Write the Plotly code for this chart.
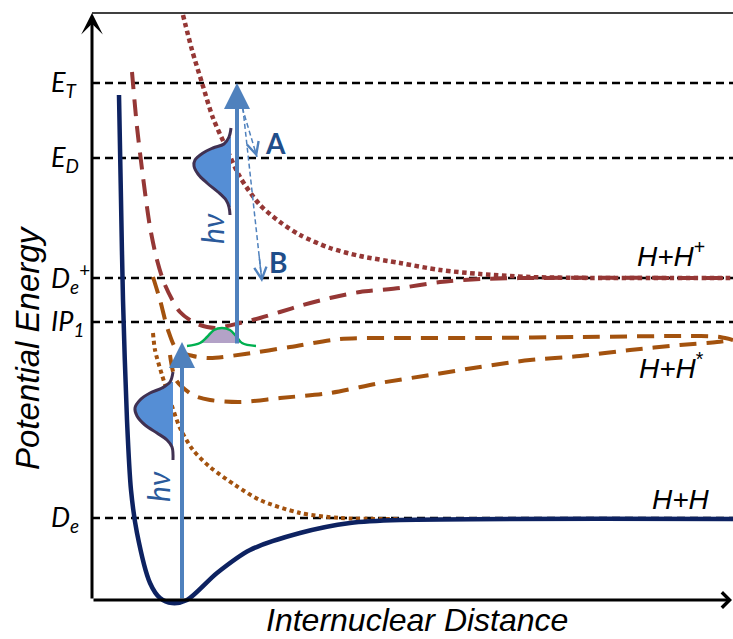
import plotly.graph_objects as go

# ---------------- data (r = internuclear distance, E = potential energy, arbitrary units) ----------------
level_names = ["<i>E</i><sub><i>T</i></sub>", "<i>E</i><sub><i>D</i></sub>",
               "<i>D</i><sub><i>e</i></sub><sup>+</sup>", "<i>IP</i><sub><i>1</i></sub>",
               "<i>D</i><sub><i>e</i></sub>"]
level_E = [517, 442, 322, 278, 82]

# ground state H2 (solid navy)
r_ground = [27, 29, 31, 35, 39, 45, 58, 68, 80, 95, 125, 158, 208, 258, 308, 641]
E_ground = [505, 400, 300, 180, 110, 67, 17, 2, -3, 0, 27, 50, 67, 77, 80, 81]

# H2+ bound state (red dashed)
r_ion = [40, 45, 51, 58, 65, 73, 88, 105, 123, 148, 168, 188, 211, 238, 268, 308, 348, 388, 438, 641]
E_ion = [528, 473, 423, 373, 340, 315, 288, 276, 272, 277, 282, 288, 295, 302, 308, 312, 318, 321, 322, 322]

# H2+ repulsive state (red dotted)
r_ion_rep = [91, 100, 110, 121, 133, 148, 168, 188, 208, 238, 268, 308, 348, 388, 438, 508, 641]
E_ion_rep = [585, 550, 517, 482, 455, 423, 395, 378, 365, 352, 344, 337, 330, 326, 323, 322, 322]

# excited states H2* (brown dashed)
r_exc1 = [61, 68, 76, 85, 101, 118, 153, 198, 248, 308, 388, 488, 608, 628, 641]
E_exc1 = [323, 300, 270, 250, 244, 242, 246, 253, 261, 262, 262, 263, 264, 263, 260]
r_exc2 = [78, 84, 101, 118, 148, 188, 238, 288, 338, 388, 438, 488, 538, 588, 625, 641]
E_exc2 = [245, 220, 205, 200, 198, 202, 207, 217, 225, 233, 240, 244, 250, 255, 258, 260]

# repulsive excited state (brown dotted)
r_rep = [61, 63, 70, 78, 88, 101, 118, 143, 168, 208, 248, 308]
E_rep = [267, 250, 225, 200, 172, 150, 133, 115, 100, 87, 82, 81]

# wave packets
r_wf_up = [139, 137, 132, 121, 111, 103, 102, 106, 115, 126, 134, 137, 138]
E_wf_up = [472, 463, 456, 452, 447, 440, 434, 426, 417, 408, 400, 393, 385]
r_wf_lo = [81, 78, 70, 58, 48, 43, 45, 53, 65, 75, 80, 81]
E_wf_lo = [228, 218, 212, 207, 200, 192, 184, 175, 167, 160, 153, 140]
r_wf_ion = [95, 108, 115, 122, 130, 138, 144, 150, 164]
E_wf_ion = [254, 257, 263, 270, 272, 270, 264, 257, 254]

# photon arrows (r, E_from, E_to)
hv1 = (90, 0, 258)
hv2 = (145, 255, 517)
# relaxation channels A and B (start r,E -> end r,E)
chan_A = ((148, 500), (165, 443))
chan_B = ((150, 500), (170, 318))

asym_labels = ["<i>H+H</i><sup>+</sup>", "<i>H+H</i><sup>*</sup>", "<i>H+H</i>"]
asym_r = [579, 579, 589]
asym_E = [346, 234, 101]

# ---------------- styles ----------------
NAVY = "#0d2261"
RED = "#953735"
BROWN = "#a3520e"
BLUE = "#4f81bd"
WF_FILL = "#558ed5"
WF_LINE = "#403152"
GREEN = "#00b050"
PURPLE = "#b3a2c7"
TXT_BLUE = "#1f4e8a"
HV_BLUE = "#2a5a9b"

R_MIN, R_MAX = -92, 641
E_MIN, E_MAX = -39, 600
R_END = 641

fig = go.Figure()

# dashed energy levels
for E in level_E:
    fig.add_trace(go.Scatter(x=[0, R_END], y=[E, E], mode="lines",
                             line=dict(color="black", width=2.5, dash="8px,5px"),
                             hoverinfo="skip", showlegend=False))

# top frame line
fig.add_trace(go.Scatter(x=[0, R_END], y=[587, 587], mode="lines",
                         line=dict(color="black", width=1.5), hoverinfo="skip", showlegend=False))


def curve(r, E, color, width, dash):
    fig.add_trace(go.Scatter(x=r, y=E, mode="lines",
                             line=dict(color=color, width=width, dash=dash, shape="spline", smoothing=0.8),
                             hoverinfo="skip", showlegend=False))


curve(r_rep, E_rep, BROWN, 4, "4px,3.5px")
curve(r_exc2, E_exc2, BROWN, 4, "17px,10px")
curve(r_exc1, E_exc1, BROWN, 4, "17px,10px")
curve(r_ion_rep, E_ion_rep, RED, 4.5, "4.5px,3.5px")
curve(r_ion, E_ion, RED, 4, "17px,10px")
curve(r_ground, E_ground, NAVY, 4.5, "solid")


# wave packet fills and outlines
def packet(r, E, base_r, fill, line, lw):
    fr = [base_r] + r[1:-1] + [base_r]
    fE = [E[1]] + E[1:-1] + [E[-2]]
    fig.add_trace(go.Scatter(x=fr, y=fE, mode="lines", fill="toself", fillcolor=fill,
                             line=dict(width=0, shape="spline"), hoverinfo="skip", showlegend=False))
    fig.add_trace(go.Scatter(x=r, y=E, mode="lines", line=dict(color=line, width=lw, shape="spline"),
                             hoverinfo="skip", showlegend=False))


packet(r_wf_up, E_wf_up, r_wf_up[0], WF_FILL, WF_LINE, 3)
packet(r_wf_lo, E_wf_lo, r_wf_lo[0], WF_FILL, WF_LINE, 3)

# ion ground-state packet (horizontal)
fig.add_trace(go.Scatter(x=r_wf_ion[1:-1], y=E_wf_ion[1:-1], mode="lines", fill="toself",
                         fillcolor=PURPLE, line=dict(width=0, shape="spline"),
                         hoverinfo="skip", showlegend=False))
fig.add_trace(go.Scatter(x=r_wf_ion, y=E_wf_ion, mode="lines",
                         line=dict(color=GREEN, width=2.5, shape="spline"),
                         hoverinfo="skip", showlegend=False))

# channel dashed lines
for (s, e) in (chan_A, chan_B):
    fig.add_trace(go.Scatter(x=[s[0], e[0]], y=[s[1], e[1]], mode="lines",
                             line=dict(color=BLUE, width=1.5, dash="5px,3px"),
                             hoverinfo="skip", showlegend=False))

ann = []
# photon arrows
for (r, e0, e1) in (hv1, hv2):
    ann.append(dict(x=r, y=e1, ax=r, ay=e0, xref="x", yref="y", axref="x", ayref="y",
                    text="", showarrow=True, arrowhead=2, arrowsize=1.3, arrowwidth=4,
                    arrowcolor=BLUE, standoff=0))
# channel arrowheads
for (s, e) in (chan_A, chan_B):
    ann.append(dict(x=e[0], y=e[1], ax=s[0] + (e[0] - s[0]) * 0.85, ay=s[1] + (e[1] - s[1]) * 0.85,
                    xref="x", yref="y", axref="x", ayref="y", text="", showarrow=True,
                    arrowhead=5, arrowsize=1.6, arrowwidth=1.5, arrowcolor=BLUE, standoff=0))

# axes
ann.append(dict(x=0, y=587, ax=0, ay=0, xref="x", yref="y", axref="x", ayref="y", text="",
                showarrow=True, arrowhead=3, arrowsize=1.2, arrowwidth=3, arrowcolor="black", standoff=0))
ann.append(dict(x=640, y=0, ax=0, ay=0, xref="x", yref="y", axref="x", ayref="y", text="",
                showarrow=True, arrowhead=4, arrowsize=1.0, arrowwidth=3, arrowcolor="black", standoff=0))

# level labels
for name, E in zip(level_names, level_E):
    ann.append(dict(x=-43, y=E, xref="x", yref="y", text=name, showarrow=False,
                    xanchor="left", yanchor="middle",
                    font=dict(family="Lato", size=27, color="black")))

# asymptote labels
for name, r, E in zip(asym_labels, asym_r, asym_E):
    ann.append(dict(x=r, y=E, xref="x", yref="y", text=name, showarrow=False,
                    font=dict(family="Liberation Sans", size=28, color="black")))

# A / B
ann.append(dict(x=183, y=457, xref="x", yref="y", text="<b>A</b>", showarrow=False,
                font=dict(family="Lato", size=28, color=TXT_BLUE)))
ann.append(dict(x=186, y=338, xref="x", yref="y", text="<b>B</b>", showarrow=False,
                font=dict(family="Lato", size=28, color=TXT_BLUE)))

# h nu labels
for (r, E) in ((120, 371), (66, 113)):
    ann.append(dict(x=r, y=E, xref="x", yref="y", text="<i>hν</i>", showarrow=False,
                    textangle=-90, font=dict(family="Lato", size=30, color=HV_BLUE)))

# axis titles
ann.append(dict(x=-65, y=252, xref="x", yref="y", text="<i>Potential Energy</i>", showarrow=False,
                textangle=-90, font=dict(family="Liberation Sans", size=33, color="black")))
ann.append(dict(x=325, y=-20, xref="x", yref="y", text="<i>Internuclear Distance</i>", showarrow=False,
                font=dict(family="Liberation Sans", size=32, color="black")))

fig.update_layout(
    width=733, height=639, margin=dict(l=0, r=0, t=0, b=0),
    paper_bgcolor="white", plot_bgcolor="white",
    xaxis=dict(range=[R_MIN, R_MAX], visible=False, fixedrange=True),
    yaxis=dict(range=[E_MIN, E_MAX], visible=False, fixedrange=True),
    annotations=ann, showlegend=False,
)

fig.write_html("out.html")
